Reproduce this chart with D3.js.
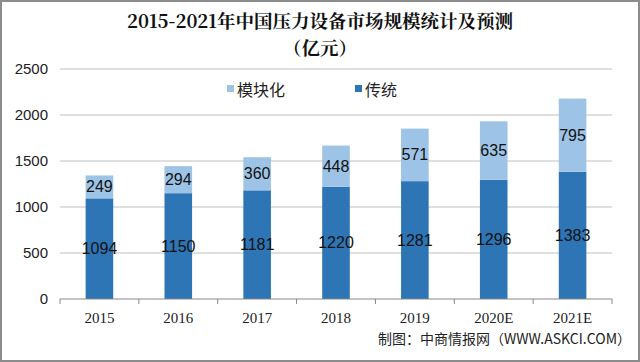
<!DOCTYPE html>
<html>
<head>
<meta charset="utf-8">
<script src="https://cdn.jsdelivr.net/npm/d3@7"></script>
<style>
  body { margin: 0; background: #fff; }
  svg { display: block; }
</style>
</head>
<body>
<div id="chart"></div>
<script>
const years = ["2015", "2016", "2017", "2018", "2019", "2020E", "2021E"];
const traditional = [1094, 1150, 1181, 1220, 1281, 1296, 1383];
const modular = [249, 294, 360, 448, 571, 635, 795];
const yTicks = [0, 500, 1000, 1500, 2000, 2500];

const W = 640, H = 362;
const margin = { top: 69, right: 28, bottom: 63, left: 60 },
  width = W - margin.left - margin.right,
  height = H - margin.top - margin.bottom;

const darkBlue = "#2e75b6", lightBlue = "#9dc3e6";

const svg = d3.select("#chart").append("svg")
  .attr("width", W).attr("height", H);

svg.append("rect").attr("x", 1).attr("y", 1)
  .attr("width", W - 2).attr("height", H - 2)
  .attr("fill", "#fff").attr("stroke", "#8c8c8c").attr("stroke-width", 2);

// title
const titleFont = "'Noto Serif CJK SC', 'Liberation Serif', serif";
svg.append("text").attr("x", 320).attr("y", 28)
  .attr("text-anchor", "middle")
  .style("font-family", titleFont)
  .style("font-weight", "bold").style("font-size", "18.5px").attr("fill", "#111")
  .text("2015-2021年中国压力设备市场规模统计及预测");
svg.append("text").attr("x", 320).attr("y", 55)
  .attr("text-anchor", "middle")
  .style("font-family", titleFont)
  .style("font-weight", "bold").style("font-size", "18.5px").attr("fill", "#111")
  .text("（亿元）");

const g = svg.append("g")
  .attr("transform", "translate(" + margin.left + "," + margin.top + ")");

const x = d3.scaleBand().domain(years).range([0, width]).paddingInner(0.65).paddingOuter(0.325);
const y = d3.scaleLinear().domain([0, 2500]).range([height, 0]);

// grid
g.selectAll(".grid").data(yTicks.slice(1)).enter().append("line")
  .attr("x1", 0).attr("x2", width)
  .attr("y1", d => y(d)).attr("y2", d => y(d))
  .attr("stroke", "#bfbfbf").attr("stroke-width", 1);

// y axis labels
const yAxis = g.append("g").call(d3.axisLeft(y).tickValues(yTicks)
  .tickFormat(d3.format("d")).tickSize(0).tickPadding(12));
yAxis.select(".domain").remove();
yAxis.selectAll("text")
  .style("font-family", "'Liberation Sans', Arial, sans-serif")
  .style("font-size", "15px").attr("fill", "#222");

// bars
const stacked = years.map((yr, i) => ({ year: yr, a: traditional[i], b: modular[i] }));

g.selectAll(".trad").data(stacked).enter().append("rect")
  .attr("x", d => x(d.year)).attr("width", x.bandwidth())
  .attr("y", d => y(d.a)).attr("height", d => y(0) - y(d.a))
  .attr("fill", darkBlue);

g.selectAll(".mod").data(stacked).enter().append("rect")
  .attr("x", d => x(d.year)).attr("width", x.bandwidth())
  .attr("y", d => y(d.a + d.b)).attr("height", d => y(d.a) - y(d.a + d.b))
  .attr("fill", lightBlue);

// x axis
const step = x.step();
const xAxis = g.append("g").attr("transform", "translate(0," + height + ")");
xAxis.append("line").attr("x1", 0).attr("x2", width).attr("stroke", "#888");
xAxis.selectAll(".tk").data(d3.range(years.length + 1)).enter().append("line")
  .attr("x1", d => d * step).attr("x2", d => d * step)
  .attr("y1", 0).attr("y2", 5).attr("stroke", "#888");
xAxis.selectAll(".xl").data(years).enter().append("text")
  .attr("x", d => x(d) + x.bandwidth() / 2).attr("y", 24)
  .attr("text-anchor", "middle")
  .style("font-family", "'Liberation Serif', 'Times New Roman', serif")
  .style("font-size", "15px").attr("fill", "#222")
  .text(d => d);

// value labels
const labelStyle = sel => sel
  .attr("text-anchor", "middle").attr("dominant-baseline", "central")
  .style("font-family", "'Liberation Sans', Arial, sans-serif")
  .style("font-size", "16px").attr("fill", "#111");

g.selectAll(".tl").data(stacked).enter().append("text")
  .attr("x", d => x(d.year) + x.bandwidth() / 2)
  .attr("y", d => (y(0) + y(d.a)) / 2)
  .call(labelStyle).text(d => d.a);

g.selectAll(".ml").data(stacked).enter().append("text")
  .attr("x", d => x(d.year) + x.bandwidth() / 2)
  .attr("y", d => (y(d.a) + y(d.a + d.b)) / 2)
  .call(labelStyle).text(d => d.b);

// legend
const legend = [
  { name: "模块化", color: lightBlue, x: 227 },
  { name: "传统", color: darkBlue, x: 355 }
];
const lg = svg.selectAll(".lg").data(legend).enter().append("g")
  .attr("transform", d => "translate(" + d.x + ",89)");
lg.append("rect").attr("x", 0).attr("y", -4).attr("width", 7).attr("height", 7)
  .attr("fill", d => d.color);
lg.append("text").attr("x", 10).attr("y", 0).attr("dominant-baseline", "central")
  .style("font-family", "'Noto Sans CJK SC', sans-serif")
  .style("font-size", "16px").attr("fill", "#222")
  .text(d => d.name);

// source
svg.append("text").attr("x", 631).attr("y", 344).attr("text-anchor", "end")
  .style("font-family", "'Noto Sans CJK SC', sans-serif")
  .style("font-size", "14px").attr("fill", "#222")
  .text("制图：中商情报网（WWW.ASKCI.COM）");
</script>
</body>
</html>
